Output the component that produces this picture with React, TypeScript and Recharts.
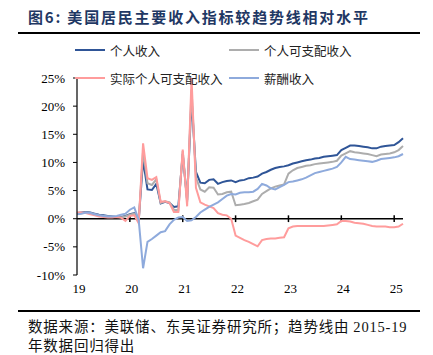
import React from 'react';
import { LineChart, Line, XAxis, YAxis, ReferenceLine } from 'recharts';

// Monthly, Jan 2019 .. Mar 2025 (index 0..74)
const personalIncome = [
  1.0, 1.1, 1.2, 1.1, 0.9, 0.7, 0.6, 0.5, 0.4, 0.3, 0.3, 0.5,
  0.8, 1.0, -0.4, 10.4, 5.2, 5.1, 6.2, 2.7, 3.0, 2.8, 2.1, 2.2,
  11.5, 3.3, 21.5, 8.3, 6.4, 6.3, 6.9, 7.0, 6.2, 6.5, 6.7, 6.8,
  6.5, 6.8, 6.9, 7.2, 7.3, 7.5, 8.0, 8.3, 8.7, 9.0, 9.2, 9.3,
  9.5, 9.8, 10.0, 10.2, 10.4, 10.5, 10.7, 10.8, 11.0, 11.1, 11.2, 11.3,
  12.2, 12.6, 13.0, 13.0, 12.9, 12.8, 12.7, 12.5, 12.5, 12.8, 12.9, 13.0,
  13.1, 13.6, 14.3,
];
const disposableIncome = [
  0.9, 1.0, 1.1, 1.0, 0.8, 0.6, 0.5, 0.4, 0.3, 0.3, 0.2, 0.4,
  0.7, 0.9, -0.5, 12.0, 6.3, 6.0, 7.0, 2.8, 3.1, 2.9, 1.6, 1.5,
  12.0, 3.0, 23.0, 7.3, 5.2, 4.8, 5.6, 5.5, 4.3, 4.4, 4.7, 4.8,
  2.4, 2.5, 2.6, 2.8, 3.1, 3.4, 4.4, 4.9, 5.4, 5.7, 5.9, 6.1,
  8.0, 8.6, 9.0, 9.2, 9.4, 9.5, 9.7, 9.8, 9.9, 10.0, 10.1, 10.3,
  11.2, 11.6, 12.0, 11.8, 11.7, 11.6, 11.5, 11.3, 11.1, 11.4, 11.5, 11.6,
  11.8, 12.2, 12.9,
];
const realDisposableIncome = [
  1.1, 1.1, 1.0, 0.8, 0.6, 0.4, 0.3, 0.2, 0.2, 0.3, 0.2, -0.4,
  0.5, 0.6, -0.8, 13.4, 7.2, 6.9, 7.4, 3.0, 3.1, 2.8, 1.2, 1.2,
  12.3, 2.2, 25.0, 5.5, 2.9, 2.5, 2.2, 1.9, 1.0, 0.7, 0.6, 0.0,
  -3.0, -3.4, -3.8, -4.1, -4.5, -4.9, -3.8, -3.6, -3.5, -3.5, -3.4, -3.3,
  -1.7, -1.4, -1.3, -1.3, -1.3, -1.3, -1.3, -1.3, -1.3, -1.2, -1.1, -1.0,
  -0.4, -0.4, -0.5, -0.7, -0.8, -0.9, -1.1, -1.3, -1.4, -1.4, -1.4, -1.5,
  -1.5, -1.4, -0.9,
];
const compensation = [
  0.8, 0.9, 1.1, 1.0, 0.8, 0.6, 0.5, 0.4, 0.4, 0.5, 0.7, 0.9,
  1.6, 2.0, -0.2, -8.8, -4.1, -3.6, -3.0, -2.4, -2.2, -1.0, -0.2, 0.2,
  0.3, -0.4, -0.3, 0.3, 1.1, 1.6, 2.1, 2.5, 2.9, 3.5, 4.1, 4.4,
  4.3, 4.6, 4.7, 4.7, 4.8, 5.3, 6.2, 5.9, 5.4, 5.2, 5.6, 6.0,
  6.5, 6.6, 6.8, 7.0, 7.3, 7.7, 8.1, 8.3, 8.5, 8.7, 8.9, 9.2,
  10.0, 11.0, 10.6, 10.5, 10.4, 10.3, 10.2, 10.1, 10.3, 10.6, 10.7, 10.8,
  10.9, 11.1, 11.5,
];

const yearTickLabels = ['19', '20', '21', '22', '23', '24', '25'];
const yearTickIndex = [0, 12, 24, 36, 48, 60, 72];
const yTicks = [-10, -5, 0, 5, 10, 15, 20, 25];

const seriesNames = ['个人收入', '个人可支配收入', '实际个人可支配收入', '薪酬收入'];
const colors = ['#2F5597', '#ADADAD', '#FF9C9C', '#8EAADC'];

const data = personalIncome.map((v, i) => ({
  i,
  pi: v,
  dpi: disposableIncome[i],
  rdpi: realDisposableIncome[i],
  comp: compensation[i],
}));

const serif = '"Liberation Serif", "DejaVu Serif", serif';
const cjk = '"Noto Sans CJK SC", sans-serif';

const LegendItem = ({ x, y, color, label }: { x: number; y: number; color: string; label: string }) => (
  <div style={{ position: 'absolute', left: x, top: y - 9, height: 18, display: 'flex', alignItems: 'center' }}>
    <div style={{ width: 30, height: 2, background: color }} />
    <span style={{ marginLeft: 5, fontFamily: cjk, fontSize: 12.5, color: '#222', whiteSpace: 'nowrap' }}>{label}</span>
  </div>
);

export default function App() {
  return (
    <div style={{ position: 'absolute', left: 0, top: 0, width: 433, height: 355, background: '#fff', overflow: 'hidden' }}>
      <div style={{ position: 'absolute', left: 28, top: 6, fontFamily: cjk, fontWeight: 700, fontSize: 15, letterSpacing: 1.8, color: '#1F3864', whiteSpace: 'nowrap' }}>
        图6:&nbsp;美国居民主要收入指标较趋势线相对水平
      </div>
      <div style={{ position: 'absolute', left: 18, top: 32, width: 402, height: 2, background: '#000' }} />

      <div style={{ position: 'absolute', left: 0, top: 0 }}>
        <LineChart width={433} height={300} data={data} margin={{ top: 78, right: 30, left: 0, bottom: 0 }}>
          <XAxis
            dataKey="i"
            type="number"
            domain={[0, 74]}
            ticks={yearTickIndex}
            tickFormatter={(v: number) => yearTickLabels[yearTickIndex.indexOf(v)]}
            axisLine={false}
            tickLine={false}
            tickSize={0}
            tickMargin={9}
            height={25}
            interval={0}
            tick={{ fontFamily: serif, fontSize: 13, fill: '#000', dx: 2 }}
          />
          <YAxis
            domain={[-10, 25]}
            ticks={yTicks}
            allowDataOverflow
            tickFormatter={(v: number) => `${v}%`}
            width={77}
            axisLine={{ stroke: '#000', strokeWidth: 1.2 }}
            tickLine={{ stroke: '#000' }}
            tickSize={4}
            tickMargin={8}
            interval={0}
            tick={{ fontFamily: serif, fontSize: 13, fill: '#000' }}
          />
          <ReferenceLine y={0} stroke="#000" strokeWidth={1.5} />
          {yearTickIndex.slice(1).map((t) => (
            <ReferenceLine
              key={t}
              segment={[{ x: t, y: -0.6 }, { x: t, y: 0.6 }]}
              stroke="#000"
              strokeWidth={1.5}
            />
          ))}
          <Line type="linear" dataKey="pi" stroke={colors[0]} strokeWidth={2} dot={false} isAnimationActive={false} />
          <Line type="linear" dataKey="dpi" stroke={colors[1]} strokeWidth={2} dot={false} isAnimationActive={false} />
          <Line type="linear" dataKey="rdpi" stroke={colors[2]} strokeWidth={2} dot={false} isAnimationActive={false} />
          <Line type="linear" dataKey="comp" stroke={colors[3]} strokeWidth={2} dot={false} isAnimationActive={false} />
        </LineChart>
      </div>

      <LegendItem x={75} y={50} color={colors[0]} label={seriesNames[0]} />
      <LegendItem x={229} y={50} color={colors[1]} label={seriesNames[1]} />
      <LegendItem x={75} y={78} color={colors[2]} label={seriesNames[2]} />
      <LegendItem x={229} y={78} color={colors[3]} label={seriesNames[3]} />

      <div style={{ position: 'absolute', left: 18, top: 310, width: 402, height: 2, background: '#000' }} />
      <div style={{ position: 'absolute', left: 28, top: 317, width: 405, fontFamily: cjk, fontSize: 14.5, letterSpacing: 0.8, lineHeight: '18px', color: '#111', whiteSpace: 'nowrap' }}>
        数据来源：美联储、东吴证券研究所；趋势线由 <span style={{ fontFamily: serif }}>2015-19</span>
        <br />
        年数据回归得出
      </div>
    </div>
  );
}
